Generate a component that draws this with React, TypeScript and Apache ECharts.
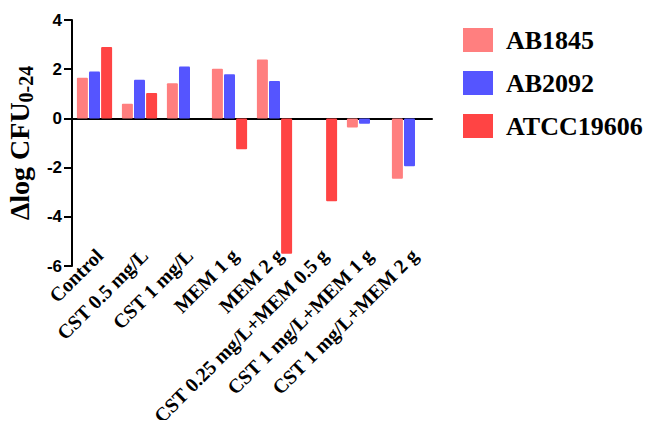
import React, { useEffect, useRef } from "react";
import * as echarts from "echarts";

const categories = [
  "Control",
  "CST 0.5 mg/L",
  "CST 1 mg/L",
  "MEM 1 g",
  "MEM 2 g",
  "CST 0.25 mg/L+MEM 0.5 g",
  "CST 1 mg/L+MEM 1 g",
  "CST 1 mg/L+MEM 2 g",
];
const seriesNames = ["AB1845", "AB2092", "ATCC19606"];
const ab1845 = [1.65, 0.6, 1.43, 2.02, 2.39, 0, -0.37, -2.45];
const ab2092 = [1.91, 1.57, 2.11, 1.79, 1.52, 0, -0.22, -1.95];
const atcc19606 = [2.9, 1.03, 0, -1.25, -5.5, -3.37, 0, 0];
const yTicks = { min: -6, max: 4, interval: 2 };
const colors = ["#FF7F7F", "#5555FF", "#FF4444"];

export default function App() {
  const ref = useRef<HTMLDivElement>(null);
  useEffect(() => {
    if (!ref.current) return;
    const chart = echarts.init(ref.current, undefined, { renderer: "svg" });
    const serif = "'Liberation Serif', 'Times New Roman', serif";
    const sans = "'Liberation Sans', Arial, sans-serif";
    const values = [ab1845, ab2092, atcc19606];
    chart.setOption({
      animation: false,
      backgroundColor: "#ffffff",
      grid: [
        { left: 72, right: 219, top: 20, bottom: 162, containLabel: false, outerBoundsMode: "none" },
        { left: 77, right: 214, top: 20, bottom: 162, containLabel: false, outerBoundsMode: "none" },
      ],
      legend: {
        orient: "vertical",
        left: 463,
        top: 27,
        padding: 0,
        itemWidth: 30,
        itemHeight: 24,
        itemGap: 17,
        icon: "rect",
        textStyle: {
          fontFamily: serif,
          fontWeight: "bold",
          fontSize: 26,
          color: "#000",
          padding: [0, 0, 0, 8],
        },
        data: seriesNames,
      },
      xAxis: [
        {
          type: "category",
          gridIndex: 0,
          data: categories,
          axisLine: { onZero: true, lineStyle: { color: "#000", width: 2 } },
          axisTick: { alignWithLabel: true, length: 7, lineStyle: { color: "#000", width: 2 } },
          axisLabel: { show: false },
          splitLine: { show: false },
        },
        {
          type: "category",
          gridIndex: 1,
          data: categories,
          position: "bottom",
          axisLine: { show: false, onZero: false },
          axisTick: { show: false },
          axisLabel: {
            interval: 0,
            rotate: 45,
            margin: -14,
            fontFamily: serif,
            fontWeight: "bold",
            fontSize: 20,
            color: "#000",
          },
          splitLine: { show: false },
        },
      ],
      yAxis: [
        {
          type: "value",
          gridIndex: 0,
          min: yTicks.min,
          max: yTicks.max,
          interval: yTicks.interval,
          axisLine: { show: true, lineStyle: { color: "#000", width: 2 } },
          axisTick: { show: true, length: 8, lineStyle: { color: "#000", width: 2 } },
          axisLabel: {
            margin: 10,
            fontFamily: sans,
            fontWeight: "bold",
            fontSize: 17,
            color: "#000",
          },
          splitLine: { show: false },
          name: "{a|Δlog CFU}{b|0-24}",
          nameLocation: "middle",
          nameRotate: 90,
          nameGap: 34,
          nameTextStyle: {
            rich: {
              a: { fontFamily: serif, fontWeight: "bold", fontSize: 28, color: "#000" },
              b: {
                fontFamily: serif,
                fontWeight: "bold",
                fontSize: 20,
                color: "#000",
                verticalAlign: "bottom",
                padding: [12, 0, 0, 0],
              },
            },
          },
        },
        {
          type: "value",
          gridIndex: 1,
          min: yTicks.min,
          max: yTicks.max,
          interval: yTicks.interval,
          show: false,
        },
      ],
      series: seriesNames.map((name, i) => ({
        name,
        type: "bar",
        xAxisIndex: 0,
        yAxisIndex: 0,
        data: values[i],
        barWidth: 11,
        barGap: "10%",
        itemStyle: { color: colors[i], borderRadius: 1 },
      })),
    });
    return () => chart.dispose();
  }, []);
  return <div ref={ref} style={{ width: 651, height: 428, margin: -8 }} />;
}
